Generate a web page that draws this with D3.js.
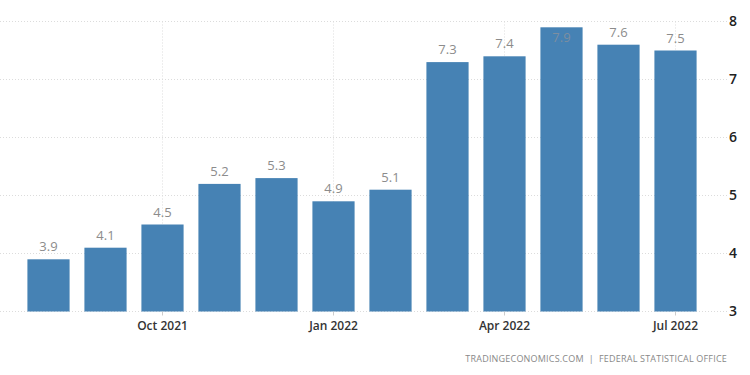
<!DOCTYPE html>
<html>
<head>
<meta charset="utf-8">
<script src="https://cdn.jsdelivr.net/npm/d3@7"></script>
<style>
  body { margin: 0; background: #fff; }
  svg { display: block; font-family: "Open Sans", sans-serif; }
</style>
</head>
<body>
<div id="chart"></div>
<script>
// monthly values, Aug 2021 - Jul 2022
var months = ["Aug 2021", "Sep 2021", "Oct 2021", "Nov 2021", "Dec 2021", "Jan 2022",
              "Feb 2022", "Mar 2022", "Apr 2022", "May 2022", "Jun 2022", "Jul 2022"];
var values = [3.9, 4.1, 4.5, 5.2, 5.3, 4.9, 5.1, 7.3, 7.4, 7.9, 7.6, 7.5];
var xTicks = ["Oct 2021", "Jan 2022", "Apr 2022", "Jul 2022"];
var yTicks = [3, 4, 5, 6, 7, 8];
var source = "TRADINGECONOMICS.COM  |  FEDERAL STATISTICAL OFFICE";

var width = 750, height = 375;
var plotLeft = 0, plotRight = 728, plotTop = 21.5, plotBottom = 311.5;

var svg = d3.select("#chart").append("svg")
    .attr("width", width).attr("height", height);

var x = d3.scaleBand()
    .domain(months)
    .range([20, 704])
    .paddingInner(0.26)
    .paddingOuter(0.13);

var y = d3.scaleLinear()
    .domain([3, 8])
    .range([plotBottom, plotTop]);

// horizontal grid
svg.append("g").selectAll("line")
    .data(yTicks)
    .enter().append("line")
    .attr("x1", plotLeft).attr("x2", plotRight)
    .attr("y1", function(d) { return y(d); })
    .attr("y2", function(d) { return y(d); })
    .attr("stroke", "#dcdcdc")
    .attr("stroke-dasharray", "1,2");

// vertical grid at labelled months
svg.append("g").selectAll("line")
    .data(xTicks)
    .enter().append("line")
    .attr("x1", function(d) { return x(d) + x.bandwidth() / 2; })
    .attr("x2", function(d) { return x(d) + x.bandwidth() / 2; })
    .attr("y1", plotTop).attr("y2", plotBottom)
    .attr("stroke", "#dcdcdc")
    .attr("stroke-dasharray", "1,2");

// bars
svg.append("g").selectAll("rect")
    .data(values)
    .enter().append("rect")
    .attr("x", function(d, i) { return x(months[i]); })
    .attr("y", function(d) { return y(d); })
    .attr("width", x.bandwidth())
    .attr("height", function(d) { return plotBottom - y(d); })
    .attr("fill", "#4682b4");

// value labels, pushed inside when they would go past the top
svg.append("g").selectAll("text")
    .data(values)
    .enter().append("text")
    .attr("x", function(d, i) { return x(months[i]) + x.bandwidth() / 2; })
    .attr("y", function(d) {
        var ly = y(d) - 8;
        return ly - 10 < plotTop - 8 ? y(d) + 15 : ly;
    })
    .attr("text-anchor", "middle")
    .attr("font-size", "13px")
    .attr("fill", function(d) { return y(d) - 18 < plotTop - 8 ? "#7d8ea0" : "#8c8c8c"; })
    .text(function(d) { return d.toFixed(1); });

// x axis
var xAxis = d3.axisBottom(x).tickValues(xTicks).tickSize(4).tickPadding(6);
var gx = svg.append("g")
    .attr("transform", "translate(0," + plotBottom + ")")
    .call(xAxis);
gx.select(".domain").remove();
gx.selectAll(".tick line").attr("stroke", "#ccc");
gx.selectAll(".tick text")
    .attr("font-family", "Open Sans, sans-serif")
    .attr("font-size", "12px")
    .attr("font-weight", 600)
    .attr("fill", "#333");

// y axis on the right
var yAxis = d3.axisRight(y).tickValues(yTicks).tickFormat(d3.format("d"))
    .tickSize(0).tickPadding(0);
var gy = svg.append("g")
    .attr("transform", "translate(" + (plotRight + 1) + ",0)")
    .call(yAxis);
gy.select(".domain").remove();
gy.selectAll(".tick text")
    .attr("font-family", "Open Sans, sans-serif")
    .attr("font-size", "14px")
    .attr("font-weight", 600)
    .attr("fill", "#222");

// source line
svg.append("text")
    .attr("x", 727).attr("y", 362)
    .attr("text-anchor", "end")
    .attr("font-size", "9px")
    .attr("letter-spacing", "0.2px")
    .attr("fill", "#888")
    .attr("xml:space", "preserve")
    .style("white-space", "pre")
    .text(source);
</script>
</body>
</html>
